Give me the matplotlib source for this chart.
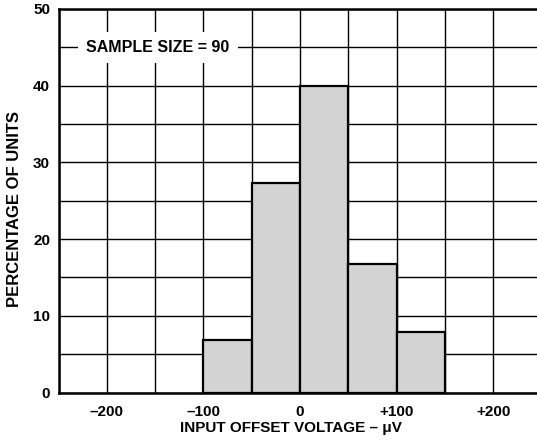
import matplotlib
matplotlib.use("Agg")
import matplotlib.pyplot as plt
import numpy as np

plt.rcParams['font.family'] = ['Liberation Sans', 'DejaVu Sans']
plt.rcParams['font.weight'] = 'bold'

bin_left = [-100, -50, 0, 50, 100]
bin_width = 50
percent = [6.9, 27.3, 40.0, 16.7, 7.9]
x_ticks = [-200, -100, 0, 100, 200]
x_labels = ['\u2013200', '\u2013100', '0', '+100', '+200']
y_ticks = [0, 10, 20, 30, 40, 50]

W, H = 537, 442
fig = plt.figure(figsize=(W / 100, H / 100), dpi=100)
l, r, t, b = 58.5, 541.5, 9, 392.5
ax = fig.add_axes([l / W, 1 - b / H, (r - l) / W, (b - t) / H])

ax.set_xlim(-250, 250)
ax.set_ylim(0, 50)
ax.set_xticks(x_ticks)
ax.set_xticklabels(x_labels)
ax.set_yticks(y_ticks)
ax.set_xticks(np.arange(-250, 251, 50), minor=True)
ax.set_yticks(np.arange(0, 51, 5), minor=True)
ax.tick_params(which='both', length=0)
ax.tick_params(axis='x', pad=9, labelsize=11)
ax.tick_params(axis='y', pad=6, labelsize=11)
for lab in ax.get_xticklabels() + ax.get_yticklabels():
    lab.set_fontweight('bold')
ax.grid(which='both', color='black', linewidth=1.0)
ax.set_axisbelow(True)
for s in ax.spines.values():
    s.set_linewidth(1.8)
    s.set_color('black')

ax.bar(bin_left, percent, width=bin_width, align='edge', color='#d3d3d3',
       edgecolor='black', linewidth=1.6, zorder=3)

ax.text(-147, 45, 'SAMPLE SIZE = 90', ha='center', va='center', fontsize=11.5,
        fontweight='bold', zorder=4,
        bbox=dict(boxstyle='square,pad=0.5', facecolor='white', edgecolor='none'))

fig.text(15 / W, 1 - 209 / H, 'PERCENTAGE OF UNITS', rotation=90, ha='center',
         va='center', fontsize=12, fontweight='bold')
fig.text(291 / W, 1 - 428 / H, 'INPUT OFFSET VOLTAGE \u2013 \u03bcV', ha='center',
         va='center', fontsize=11, fontweight='bold')

fig.savefig('out.png', dpi=100)
